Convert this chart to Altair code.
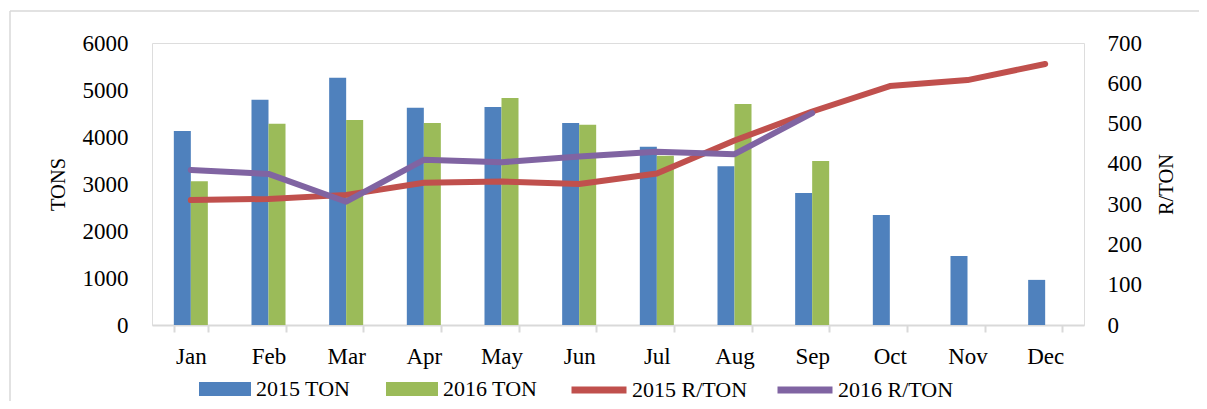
import altair as alt
import pandas as pd

months = ["Jan", "Feb", "Mar", "Apr", "May", "Jun", "Jul", "Aug", "Sep", "Oct", "Nov", "Dec"]
ton_2015 = [4130, 4790, 5260, 4620, 4640, 4300, 3790, 3380, 2810, 2340, 1470, 960]
ton_2016 = [3060, 4280, 4360, 4300, 4830, 4260, 3600, 4700, 3490, None, None, None]
rton_2015 = [310, 313, 323, 353, 356, 350, 376, 458, 530, 593, 608, 648]
rton_2016 = [385, 375, 306, 410, 404, 418, 430, 424, 526, None, None, None]

bar_series = ["2015 TON", "2016 TON"]
bar_colors = ["#4F81BD", "#9BBB59"]
line_series = ["2015 R/TON", "2016 R/TON"]
line_colors = ["#C0504D", "#8064A2"]

bar_rows = []
for m, a, b in zip(months, ton_2015, ton_2016):
    bar_rows.append({"month": m, "series": bar_series[0], "tons": a})
    if b is not None:
        bar_rows.append({"month": m, "series": bar_series[1], "tons": b})
bars_df = pd.DataFrame(bar_rows)

line_rows = []
for m, a, b in zip(months, rton_2015, rton_2016):
    line_rows.append({"month": m, "series": line_series[0], "rton": a})
    if b is not None:
        line_rows.append({"month": m, "series": line_series[1], "rton": b})
lines_df = pd.DataFrame(line_rows)

FONT = "Liberation Serif"


def x_enc():
    return alt.X(
        "month:N",
        sort=months,
        scale=alt.Scale(domain=months, paddingInner=0.562, paddingOuter=0.281),
        axis=alt.Axis(
            title=None,
            labelAngle=0,
            labelFont=FONT,
            labelFontSize=23,
            labelColor="#000000",
            labelPadding=13,
            domainColor="#d9d9d9",
            domainWidth=2,
            tickColor="#d9d9d9",
            tickWidth=2,
            tickSize=7,
            tickBand="extent",
            grid=False,
        ),
    )


bar_legend = alt.Legend(
    title=None,
    orient="none",
    legendX=47,
    legendY=320,
    direction="horizontal",
    padding=0,
    labelFont=FONT,
    labelFontSize=22,
    labelColor="#000000",
    symbolSize=2704,
    symbolType="M-1,-0.27H1V0.27H-1Z",
    symbolStrokeWidth=0,
    symbolOpacity=1,
    labelOffset=5,
    columnPadding=35,
    labelLimit=300,
)

line_legend = alt.Legend(
    title=None,
    orient="none",
    legendX=416,
    legendY=316,
    direction="horizontal",
    padding=0,
    labelFont=FONT,
    labelFontSize=22,
    labelColor="#000000",
    symbolSize=3025,
    symbolType="stroke",
    symbolStrokeWidth=7,
    symbolOpacity=1,
    labelOffset=2,
    columnPadding=15,
    labelLimit=300,
)

bars = (
    alt.Chart(bars_df)
    .mark_bar()
    .encode(
        x=x_enc(),
        xOffset=alt.XOffset("series:N", sort=bar_series, scale=alt.Scale(paddingInner=0, paddingOuter=0)),
        y=alt.Y(
            "tons:Q",
            scale=alt.Scale(domain=[0, 6000], nice=False),
            axis=alt.Axis(
                title="TONS",
                values=[0, 1000, 2000, 3000, 4000, 5000, 6000],
                format="d",
                labelFont=FONT,
                labelFontSize=23,
                labelColor="#000000",
                labelPadding=24,
                ticks=False,
                domain=False,
                grid=False,
                titleFont=FONT,
                titleFontSize=20.5,
                titleFontWeight="normal",
                titleColor="#000000",
                titleAngle=270,
                titleAlign="center",
                titleBaseline="middle",
                titleX=-94,
                titleY=141,
            ),
        ),
        color=alt.Color("series:N", scale=alt.Scale(domain=bar_series, range=bar_colors), legend=bar_legend),
    )
)

lines = (
    alt.Chart(lines_df)
    .mark_line(strokeWidth=6, strokeCap="round", strokeJoin="round")
    .encode(
        x=x_enc(),
        y=alt.Y(
            "rton:Q",
            scale=alt.Scale(domain=[0, 700], nice=False),
            axis=alt.Axis(
                title="R/TON",
                orient="right",
                values=[0, 100, 200, 300, 400, 500, 600, 700],
                format="d",
                labelFont=FONT,
                labelFontSize=23,
                labelColor="#000000",
                labelPadding=23,
                ticks=False,
                domain=False,
                grid=False,
                titleFont=FONT,
                titleFontSize=20.5,
                titleFontWeight="normal",
                titleColor="#000000",
                titleAngle=270,
                titleAlign="center",
                titleBaseline="middle",
                titleX=82,
                titleY=141,
            ),
        ),
        stroke=alt.Stroke("series:N", scale=alt.Scale(domain=line_series, range=line_colors), legend=line_legend),
    )
)

frame_data = alt.Data(values=[{}])
frame_top = (
    alt.Chart(frame_data)
    .mark_rule(color="#d9d9d9", strokeWidth=1.5)
    .encode(x=alt.value(-142), x2=alt.value(1200), y=alt.value(-32))
)
frame_left = (
    alt.Chart(frame_data)
    .mark_rule(color="#d9d9d9", strokeWidth=1.5)
    .encode(x=alt.value(-142), y=alt.value(-32), y2=alt.value(420))
)

chart = (
    alt.layer(frame_top, frame_left, bars, lines)
    .resolve_scale(y="independent")
    .properties(
        width=932,
        height=282,
        autosize=alt.AutoSizeParams(type="none"),
        padding={"left": 144, "top": 35, "right": 115, "bottom": 76},
    )
    .configure_view(stroke=None)
    .configure(background="white")
)

chart.save("out.html", embed_options={"renderer": "svg", "actions": False})
